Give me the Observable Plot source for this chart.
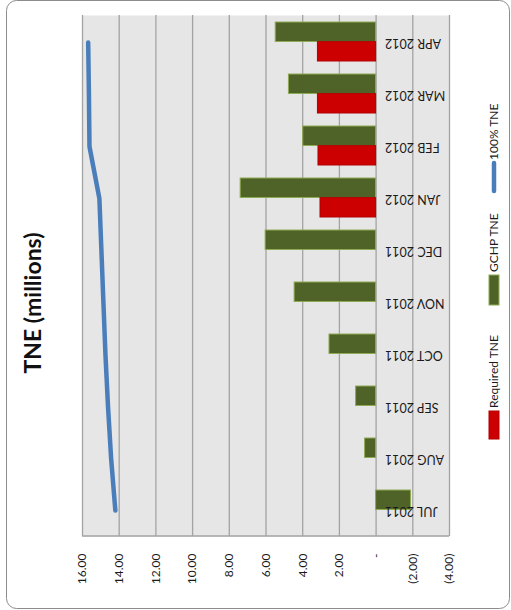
<!DOCTYPE html>
<html>
<head>
<meta charset="utf-8">
<script src="https://cdn.jsdelivr.net/npm/d3@7"></script>
<script src="https://cdn.jsdelivr.net/npm/@observablehq/plot@0.6"></script>
<style>
  html, body { margin: 0; padding: 0; background: white; }
</style>
</head>
<body>
<div id="chart"></div>
<script>
// ---- data ----
const months = ["JUL 2011","AUG 2011","SEP 2011","OCT 2011","NOV 2011","DEC 2011","JAN 2012","FEB 2012","MAR 2012","APR 2012"];
const requiredTNE = [null, null, null, null, null, null, 3.03, 3.14, 3.17, 3.17];
const gchpTNE = [-1.90, 0.60, 1.09, 2.54, 4.44, 6.02, 7.38, 3.97, 4.75, 5.47];
const fullTNE = [14.21, 14.44, 14.61, 14.75, 14.86, 14.97, 15.08, 15.62, 15.65, 15.69];
const xTicks = [16, 14, 12, 10, 8, 6, 4, 2, 0, -2, -4];
const title = "TNE (millions)";
const legendLabels = ["Required TNE", "GCHP TNE", "100% TNE"];

const colors = {required: "#cc0000", gchp: "#4f6228", full: "#4a7ebb"};

const rows = months.map((m, i) => ({month: m, required: requiredTNE[i], gchp: gchpTNE[i], full: fullTNE[i]}));
const fmt = v => v === 0 ? "-" : v < 0 ? `(${(-v).toFixed(2)})` : v.toFixed(2);

const W = 511, H = 610;
const mL = 82, mR = 62, mT = 15, mB = 74;

const chart = Plot.plot({
  width: W, height: H,
  marginLeft: mL, marginRight: mR, marginTop: mT, marginBottom: mB,
  style: {fontFamily: "Lato, 'Open Sans', sans-serif", fontSize: "12px", background: "white", color: "#1a1a1a"},
  x: {domain: [-4, 16], reverse: true, ticks: xTicks},
  y: {domain: months.slice().reverse(), padding: 0, axis: null},
  marks: [
    Plot.frame({fill: "#e6e6e6", stroke: null}),
    Plot.gridX(xTicks, {stroke: "#a3a3a3", strokeOpacity: 1, strokeWidth: 1.3}),
    Plot.barX(rows.filter(d => d.gchp != null), {x: "gchp", y: "month", fill: colors.gchp, stroke: "#8eaa52", strokeWidth: 1, insetTop: 6, insetBottom: 26.5}),
    Plot.barX(rows.filter(d => d.required != null), {x: "required", y: "month", fill: colors.required, stroke: "#b30000", strokeWidth: 1, insetTop: 25.6, insetBottom: 7}),
    Plot.lineX(rows, {x: "full", y: "month", stroke: colors.full, strokeWidth: 4.5, strokeLinecap: "round", strokeLinejoin: "round"}),
    Plot.text(months, {x: 0, y: d => d, text: d => d, rotate: 180, textAnchor: "end", lineAnchor: "middle", dx: 9, fontSize: 12.5, fill: "#1a1a1a"}),
    Plot.axisX(xTicks, {anchor: "bottom", tickSize: 0, tickPadding: 17, tickRotate: -90, tickFormat: fmt, fontSize: 12, fill: "#1a1a1a"}),
    Plot.text([title], {frameAnchor: "left", dx: -49, dy: 27, rotate: -90, textAnchor: "middle", lineAnchor: "middle", fontSize: 23, fontWeight: "bold", fill: "#111"})
  ]
});

// value-axis baseline along the bottom of the plot area, from the x scale range
const svg = d3.select(chart);
const xr = chart.scale("x").range;
svg.append("line")
  .attr("x1", Math.min(...xr)).attr("x2", Math.max(...xr))
  .attr("y1", H - mB).attr("y2", H - mB)
  .attr("stroke", "#a3a3a3").attr("stroke-width", 1.5);

// legend (rotated, on the right)
const lg = svg.append("g").attr("font-family", "Lato, 'Open Sans', sans-serif").attr("font-size", 12).attr("fill", "#1a1a1a");
const legendItems = [
  {label: legendLabels[0], kind: "bar", color: colors.required, stroke: "#b30000", y0: 411, y1: 439},
  {label: legendLabels[1], kind: "bar", color: colors.gchp, stroke: "#8eaa52", y0: 275, y1: 305},
  {label: legendLabels[2], kind: "line", color: colors.full, y0: 163, y1: 191}
];
for (const it of legendItems) {
  if (it.kind === "bar") {
    lg.append("rect").attr("x", 489).attr("y", it.y0).attr("width", 10).attr("height", it.y1 - it.y0)
      .attr("fill", it.color).attr("stroke", it.stroke).attr("stroke-width", 1);
  } else {
    lg.append("line").attr("x1", 494).attr("x2", 494).attr("y1", it.y0).attr("y2", it.y1)
      .attr("stroke", it.color).attr("stroke-width", 4.5).attr("stroke-linecap", "round");
  }
  lg.append("text").attr("transform", `translate(498,${it.y0 - 3}) rotate(-90)`)
    .attr("text-anchor", "start").text(it.label);
}

// outer chart border
svg.append("rect").attr("x", 6.5).attr("y", 0.5).attr("width", 503).attr("height", 608)
  .attr("rx", 10).attr("fill", "none").attr("stroke", "#8c8c8c").attr("stroke-width", 1);

document.getElementById("chart").appendChild(chart);
</script>
</body>
</html>
